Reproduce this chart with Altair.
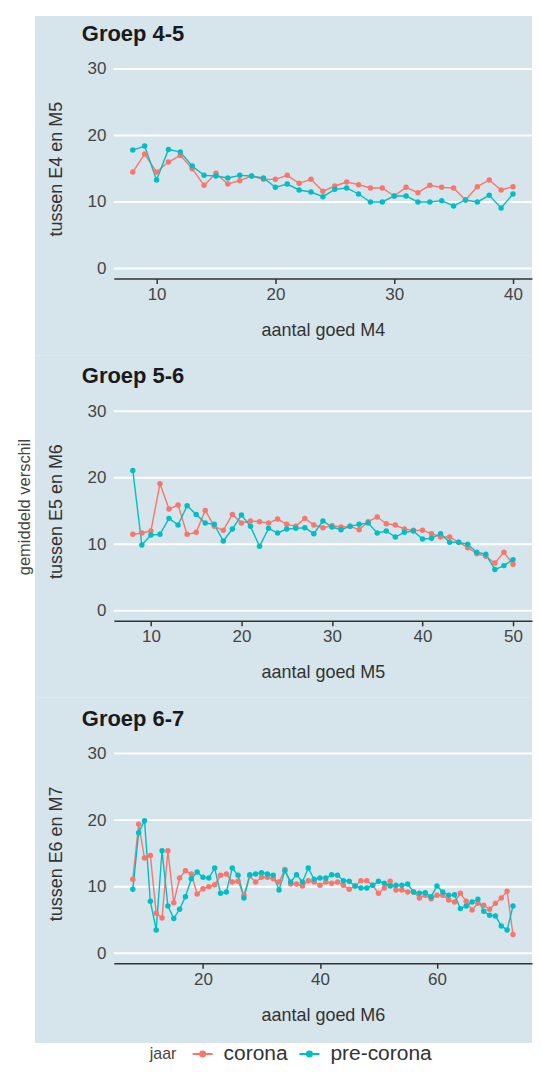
import altair as alt
import pandas as pd

RED = "#F8766D"
TEAL = "#00BFC4"
BG = "#d6e4eb"
FONT = "Liberation Sans"

# ---------------- data ----------------
x_45 = list(range(8, 41))
corona_45 = [14.5, 17.2, 14.5, 16.0, 17.0, 15.0, 12.5, 14.3, 12.7, 13.2, 13.9, 13.4, 13.4,
             14.0, 12.8, 13.4, 11.6, 12.4, 13.0, 12.6, 12.1, 12.1, 10.9, 12.2, 11.4, 12.5,
             12.2, 12.1, 10.3, 12.3, 13.3, 11.8, 12.3]
pre_45 = [17.8, 18.4, 13.3, 17.9, 17.5, 15.4, 14.0, 13.9, 13.6, 14.0, 13.9, 13.6, 12.2,
          12.7, 11.8, 11.5, 10.8, 11.9, 12.1, 11.2, 10.0, 10.0, 10.9, 10.9, 10.0, 10.0,
          10.2, 9.4, 10.3, 10.0, 11.0, 9.1, 11.2]

x_56 = list(range(8, 51))
corona_56 = [11.5, 11.7, 12.0, 19.1, 15.3, 15.9, 11.5, 11.8, 15.1, 12.7, 12.1, 14.5, 13.2,
             13.5, 13.4, 13.2, 13.8, 13.0, 12.7, 13.9, 12.9, 12.5, 12.8, 12.6, 12.7, 12.2,
             13.4, 14.1, 13.1, 12.9, 12.3, 12.1, 12.1, 11.6, 11.1, 11.1, 10.3, 9.5, 8.6,
             8.2, 7.2, 8.8, 7.0]
pre_56 = [21.1, 9.9, 11.4, 11.5, 13.9, 12.9, 15.8, 14.5, 13.2, 13.0, 10.5, 12.3, 14.4,
          12.7, 9.7, 12.4, 11.7, 12.3, 12.4, 12.5, 11.6, 13.5, 12.6, 12.2, 12.7, 13.0,
          13.2, 11.7, 12.0, 11.1, 11.8, 12.0, 10.8, 10.9, 11.6, 10.3, 10.3, 10.0, 8.8,
          8.5, 6.2, 6.8, 7.7]

x_67 = list(range(8, 74))
corona_67 = [11.1, 19.4, 14.3, 14.7, 6.0, 5.3, 15.4, 7.6, 11.3, 12.4, 11.9, 8.9, 9.7,
             10.0, 10.3, 11.7, 11.9, 10.7, 10.8, 8.7, 11.6, 10.7, 11.4, 11.4, 11.2, 10.7,
             12.6, 10.4, 10.4, 10.1, 10.9, 10.7, 10.2, 10.7, 10.5, 10.7, 10.2, 9.6, 10.1,
             10.9, 10.9, 10.2, 9.0, 9.8, 10.8, 9.5, 9.5, 9.2, 9.2, 8.3, 8.7, 8.2, 8.7,
             8.7, 8.0, 7.7, 9.0, 7.8, 6.5, 7.5, 7.2, 6.6, 7.5, 8.3, 9.3, 2.8]
pre_67 = [9.6, 18.1, 19.9, 7.8, 3.5, 15.4, 7.1, 5.2, 6.6, 8.5, 11.2, 12.2, 11.4, 11.3,
          12.8, 9.0, 9.2, 12.8, 11.7, 8.3, 11.8, 11.9, 12.1, 11.9, 11.7, 9.5, 12.4, 10.7,
          11.8, 10.7, 12.8, 11.1, 11.3, 11.3, 11.8, 11.7, 10.9, 10.8, 10.1, 9.8, 9.8,
          10.2, 10.8, 10.5, 10.1, 10.2, 10.2, 10.4, 9.2, 9.0, 9.1, 8.5, 10.1, 9.2, 8.7,
          8.8, 6.7, 7.1, 7.7, 8.1, 6.3, 5.7, 5.6, 4.1, 3.5, 7.1]

series = ["corona", "pre-corona"]
y_ticks = [0, 10, 20, 30]

# ---------------- layout ----------------
W, H = 419, 220
YDOM = [-1.5, 31.5]

SYMBOL = "M-1,0L1,0M-0.25,0A0.25,0.25,0,1,0,0.25,0A0.25,0.25,0,1,0,-0.25,0Z"


def frame(xs, c, p):
    rows = [{"x": a, "v": b, "jaar": series[0]} for a, b in zip(xs, c)]
    rows += [{"x": a, "v": b, "jaar": series[1]} for a, b in zip(xs, p)]
    return pd.DataFrame(rows)


def panel(title, xs, c, p, xdom, xticks, xtitle, ytitle, top, bottom,
          legend=None, side=False):
    df = frame(xs, c, p)
    xscale = alt.Scale(domain=xdom, nice=False, zero=False)
    yscale = alt.Scale(domain=YDOM, nice=False, zero=False)
    one = pd.DataFrame({"a": [0]})

    xaxis = alt.Axis(
        values=xticks, title=xtitle, grid=False, zindex=1, domain=True,
        domainColor="#333333", domainWidth=1.5, ticks=True, tickSize=5,
        tickColor="#333333", tickWidth=1.5, labelPadding=3, labelFontSize=17,
        labelColor="#444444", labelFont=FONT, titleFont=FONT, titleFontSize=18,
        titleFontWeight="normal", titleColor="#333333", titlePadding=19)
    yaxis = alt.Axis(
        values=y_ticks, title=ytitle, grid=False, zindex=1, domain=False,
        ticks=False, tickSize=0, labelPadding=8, labelFontSize=17,
        labelColor="#444444", labelFont=FONT, titleFont=FONT, titleFontSize=18,
        titleFontWeight="normal", titleColor="#333333", titlePadding=21)

    bg = alt.Chart(one).mark_rect(color=BG, clip=False).encode(
        x=alt.value(-79), x2=alt.value(W), y=alt.value(top), y2=alt.value(bottom))
    anchor = alt.Chart(one).mark_rect(color="white", opacity=0, clip=False).encode(
        x=alt.value(-106), x2=alt.value(-79), y=alt.value(top), y2=alt.value(bottom))
    grid = alt.Chart(pd.DataFrame({"v": y_ticks})).mark_rule(
        color="white", strokeWidth=2).encode(
        y=alt.Y("v:Q", scale=yscale, axis=yaxis), x=alt.value(0), x2=alt.value(W))

    color = alt.Color("jaar:N", scale=alt.Scale(domain=series, range=[RED, TEAL]),
                      legend=legend)

    line = alt.Chart(df).mark_line(strokeWidth=1.4).encode(
        x=alt.X("x:Q", scale=xscale, axis=xaxis),
        y=alt.Y("v:Q", scale=yscale, axis=yaxis),
        color=color)
    pts = alt.Chart(df).mark_point(filled=True, size=30, opacity=1).encode(
        x=alt.X("x:Q", scale=xscale, axis=xaxis),
        y=alt.Y("v:Q", scale=yscale, axis=yaxis),
        color=color)

    ttl = alt.Chart(pd.DataFrame({"t": [title]})).mark_text(
        align="left", baseline="middle", font=FONT, fontSize=22, fontWeight="bold",
        color="#1a1a1a", clip=False).encode(
        text="t:N", x=alt.value(-32), y=alt.value(-25))

    layers = [bg, anchor, grid, line, pts, ttl]
    if side:
        sd = alt.Chart(pd.DataFrame({"t": ["gemiddeld verschil"]})).mark_text(
            align="center", baseline="middle", angle=270, font=FONT, fontSize=16.5,
            color="#444444", clip=False).encode(
            text="t:N", x=alt.value(-89), y=alt.value(106))
        layers.append(sd)
    return alt.layer(*layers).properties(width=W, height=H)


leg = alt.Legend(orient="none", legendX=36, legendY=300, direction="horizontal",
                 title="jaar", titleOrient="left", titleFont=FONT, titleFontSize=16,
                 titleFontWeight="normal", titleColor="#444444", titlePadding=15,
                 labelFont=FONT, labelFontSize=21, labelColor="#333333",
                 labelOffset=10, columnPadding=7, symbolType=SYMBOL,
                 symbolSize=400, symbolStrokeWidth=2)

p1 = panel("Groep 4-5", x_45, corona_45, pre_45, [6.4, 41.6], [10, 20, 30, 40],
           "aantal goed M4", "tussen E4 en M5", -43, 297)
p2 = panel("Groep 5-6", x_56, corona_56, pre_56, [5.9, 52.1], [10, 20, 30, 40, 50],
           "aantal goed M5", "tussen E5 en M6", -46, 297, side=True)
p3 = panel("Groep 6-7", x_67, corona_67, pre_67, [4.75, 76.25], [20, 40, 60],
           "aantal goed M6", "tussen E6 en M7", -46, 300, legend=leg)

chart = alt.vconcat(p1, p2, p3, spacing=0).resolve_scale(
    x="independent", y="independent", color="shared").resolve_legend(
    color="independent").properties(
    padding={"left": 0, "top": 7, "right": 0, "bottom": 0},
    background="white",
).configure_view(stroke=None)

chart.save("out.html", embed_options={"renderer": "svg", "actions": False})
